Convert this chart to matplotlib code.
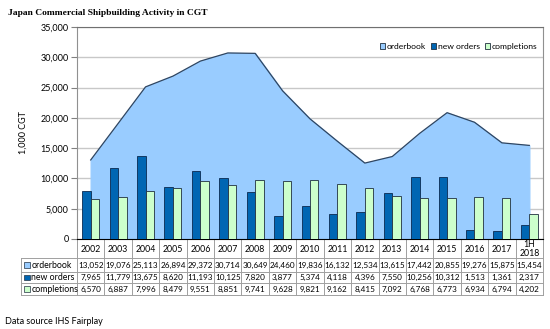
import numpy as np
import matplotlib.pyplot as plt
from matplotlib.patches import Rectangle
from matplotlib.ticker import FuncFormatter

years = ["2002", "2003", "2004", "2005", "2006", "2007", "2008", "2009", "2010",
         "2011", "2012", "2013", "2014", "2015", "2016", "2017", "1H\n2018"]
orderbook = [13052, 19076, 25113, 26894, 29372, 30714, 30649, 24460, 19836,
             16132, 12534, 13615, 17442, 20855, 19276, 15875, 15454]
new_orders = [7965, 11779, 13675, 8620, 11193, 10125, 7820, 3877, 5374,
              4118, 4396, 7550, 10256, 10312, 1513, 1361, 2317]
completions = [6570, 6887, 7996, 8479, 9551, 8851, 9741, 9628, 9821,
               9162, 8415, 7092, 6768, 6773, 6934, 6794, 4202]

c_ob = "#99ccff"
c_no = "#0066b3"
c_co = "#ccffcc"
font = ["Lato", "DejaVu Sans"]
plt.rcParams["font.family"] = font

W, H = 550, 329
fig = plt.figure(figsize=(5.5, 3.29), dpi=100)
ax = fig.add_axes([77 / W, 1 - 239 / H, (543 - 77) / W, (239 - 27) / H])

x = np.arange(len(years))
ax.fill_between(x, orderbook, color=c_ob, zorder=1, label="orderbook")
ax.plot(x, orderbook, color="#2f4560", lw=0.9, zorder=2)
bw = 0.31
ax.bar(x - bw / 2, new_orders, bw, color=c_no, edgecolor="#0a2a50", lw=0.6,
       zorder=3, label="new orders")
ax.bar(x + bw / 2, completions, bw, color=c_co, edgecolor="#203040", lw=0.6,
       zorder=3, label="completions")

ax.set_xlim(-0.5, len(years) - 0.5)
ax.set_ylim(0, 35000)
ax.set_yticks(range(0, 35001, 5000))
ax.yaxis.set_major_formatter(FuncFormatter(lambda v, p: f"{int(v):,}"))
ax.tick_params(axis="y", labelsize=6.5, length=4, color="#808080", pad=2)
ax.set_xticks([])
ax.grid(axis="y", color="#c8c8c8", lw=1, zorder=0)
ax.set_axisbelow(True)
for s in ["left", "right"]:
    ax.spines[s].set_color("#909090")
ax.spines["top"].set_color("#707070")
ax.spines["bottom"].set_color("black")
ax.set_ylabel("1,000 CGT", fontsize=6.5, labelpad=9)

leg = ax.legend(loc="upper right", bbox_to_anchor=(1.005, 0.96), ncol=3,
                frameon=False, fontsize=6.1, handlelength=0.6, handleheight=0.6,
                handletextpad=0.25, columnspacing=0.55)
for h in leg.legend_handles:
    h.set_edgecolor("#203040")
    h.set_linewidth(0.6)

# data table under the axis
trans = ax.get_xaxis_transform()
def fy(py):
    return -(py - 239) / 212

lc = "#a0a0a0"
x0 = -0.5 - (77 - 21) / ((543 - 77) / 17)
for yy in [258, 271.5, 283, 295]:
    ax.plot([x0, 16.5], [fy(yy)] * 2, transform=trans, color=lc, lw=0.7, clip_on=False)
for b in np.arange(-0.5, 17.0, 1):
    ax.plot([b, b], [0, fy(295)], transform=trans, color=lc, lw=0.7, clip_on=False)
ax.plot([x0, x0], [fy(258), fy(295)], transform=trans, color=lc, lw=0.7, clip_on=False)

for i, yr in enumerate(years):
    parts = yr.split("\n")
    if len(parts) == 1:
        ax.text(i, fy(249), yr, transform=trans, ha="center", va="center", fontsize=6.3)
    else:
        ax.text(i, fy(244.5), parts[0], transform=trans, ha="center", va="center", fontsize=6.3)
        ax.text(i, fy(253.5), parts[1], transform=trans, ha="center", va="center", fontsize=6.3)

rows = [("orderbook", orderbook, c_ob, 265), ("new orders", new_orders, c_no, 277.5),
        ("completions", completions, c_co, 289)]
sq = 0.22
for name, vals, col, yy in rows:
    ax.add_patch(Rectangle((x0 + 0.1, fy(yy) - 0.013), sq, 0.027, transform=trans,
                           facecolor=col, edgecolor="#203040", lw=0.5, clip_on=False))
    ax.text(x0 + 0.37, fy(yy), name, transform=trans, ha="left", va="center",
            fontsize=6.3)
    for i, v in enumerate(vals):
        ax.text(i, fy(yy), f"{v:,}", transform=trans, ha="center", va="center",
                fontsize=5.9)

fig.text(8 / W, 1 - 13 / H, "Japan Commercial Shipbuilding Activity in CGT",
         fontsize=6.8, fontweight="bold", family=["Liberation Serif"], va="center")
fig.text(5 / W, 1 - 322 / H, "Data source IHS Fairplay", fontsize=6.5, va="center")

fig.savefig("out.png", dpi=100)
